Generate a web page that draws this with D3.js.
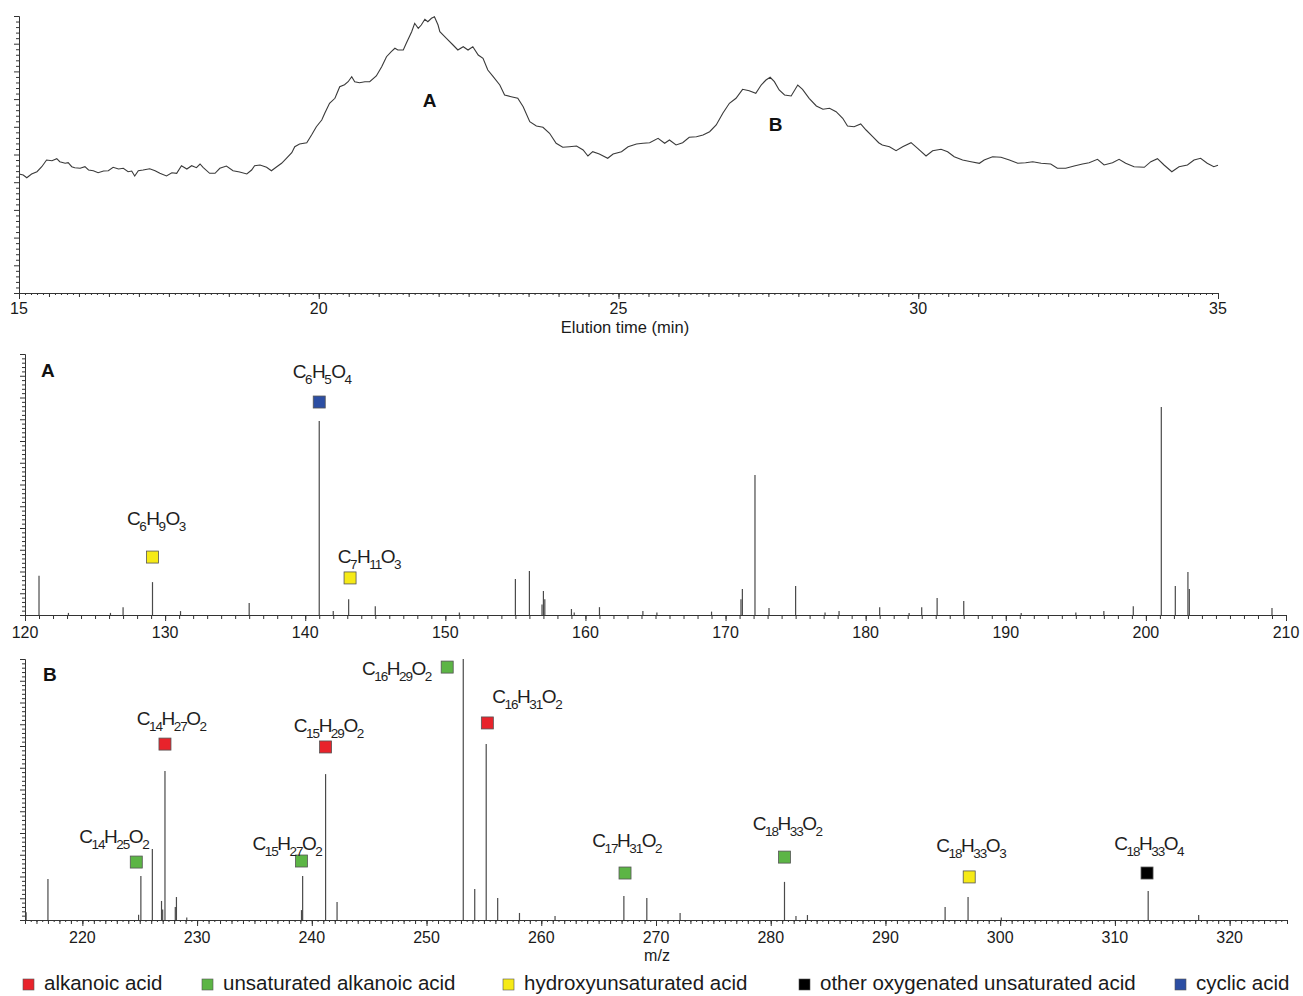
<!DOCTYPE html>
<html><head><meta charset="utf-8">
<script src="https://cdn.jsdelivr.net/npm/d3@7"></script>
<style>
body{margin:0;background:#fff}
svg{display:block}
text{font-family:"Liberation Sans",Arial,Helvetica,sans-serif}
</style>
</head><body>
<svg id="chart" width="1303" height="996"></svg>
<script>
// ---------- DATA ----------
// Chromatogram (elution time in min, intensity in arbitrary units)
const traceTime = [15.00,15.07,15.13,15.21,15.30,15.38,15.46,15.55,15.63,15.68,15.77,15.82,15.88,15.93,16.02,16.10,16.16,16.24,16.32,16.41,16.49,16.57,16.66,16.74,16.82,16.88,16.93,16.99,17.07,17.18,17.27,17.35,17.46,17.55,17.63,17.71,17.80,17.88,17.96,18.02,18.07,18.18,18.27,18.35,18.46,18.57,18.68,18.80,18.88,18.93,19.02,19.13,19.21,19.30,19.38,19.46,19.55,19.60,19.68,19.80,19.88,19.96,20.05,20.10,20.18,20.27,20.35,20.43,20.49,20.55,20.60,20.68,20.77,20.85,20.96,21.05,21.13,21.21,21.27,21.32,21.41,21.46,21.55,21.60,21.66,21.71,21.77,21.82,21.88,21.93,21.99,22.02,22.13,22.24,22.32,22.41,22.49,22.57,22.66,22.74,22.82,22.91,23.02,23.10,23.21,23.32,23.41,23.52,23.63,23.74,23.85,23.96,24.07,24.18,24.30,24.41,24.49,24.57,24.68,24.82,24.91,25.05,25.16,25.30,25.41,25.52,25.66,25.77,25.85,25.96,26.07,26.18,26.30,26.41,26.52,26.63,26.74,26.85,26.96,27.07,27.18,27.29,27.38,27.46,27.53,27.60,27.68,27.77,27.88,27.99,28.07,28.18,28.30,28.41,28.52,28.63,28.74,28.82,28.93,29.04,29.13,29.24,29.34,29.40,29.52,29.63,29.74,29.88,29.99,30.13,30.24,30.38,30.49,30.60,30.74,30.88,31.02,31.10,31.24,31.38,31.52,31.66,31.79,31.91,32.05,32.21,32.32,32.46,32.60,32.74,32.85,32.99,33.10,33.24,33.35,33.46,33.60,33.77,33.88,33.99,34.10,34.23,34.35,34.49,34.60,34.71,34.82,34.93,35.00];
const traceIntensity = [119,118,115.3,119,121.3,126.3,133,132.3,134.3,131.3,129.7,130.3,126.3,125.3,124.7,126.3,123,122.3,120.3,122,122.3,125.7,124,124.7,121.3,122,117,122.3,123,124.3,122.3,119.7,117,120.3,119.7,127.3,124,127.3,125.3,129,125.7,119.7,119.7,124.7,127,122.3,121,119,123,127.3,128,125.7,122.3,126.3,129.7,134.7,140.3,146.3,149,150.3,158,166.3,173,179.7,189.7,194.7,206.3,208.3,211.3,216.3,211.3,210.3,211.3,211.3,217,226.3,236.3,241.3,244.7,243,243,249.7,261.3,269.7,264.7,268,273.7,271.3,274.7,276.3,268,261.3,254.7,248,243,246.3,243,246.3,238,234.7,223,216.3,208,198,196.3,194.7,186.3,171.3,167,165.7,159.7,149.7,145.7,146.3,147,143,137,141.3,139,134.7,139,141.3,146.3,149,149.7,150.3,154.7,149.7,153,148,150.3,155.7,156.3,158,161.3,168,179.7,189.7,194.7,203.7,202.3,199.7,208,213,215.7,211.3,203,198,197,208,203.7,194.7,187,183.7,184.7,181.3,174.7,167,166.3,169,163,156.3,150.3,148,146.3,142.3,146.3,150.3,144.7,137,142.3,143.7,141.3,136.3,133,131.3,129.7,133,136.3,135.7,133,129.7,130.3,131.3,129.7,129,124.7,124.7,127,129,130.3,133.7,128,130.3,133.7,129.7,126.3,125.7,131.3,134.3,128,121.3,126.3,128,133,134.7,129.7,126.3,127.7];
const traceTickLabels = [15,20,25,30,35];
const tracePeakNames = ["A","B"];
const tracePeakTime = [21.85,27.62];
const tracePeakLevel = [186,162];

// Mass spectrum A (m/z, relative intensity %)
const mzA  = [121.0,123.1,126.1,127.0,129.1,131.1,136.0,141.0,142.0,143.1,145.0,151.0,155.0,156.0,156.9,157.0,157.1,159.0,159.2,161.0,164.1,165.1,169.0,171.1,171.2,172.1,173.1,175.0,177.1,178.1,181.0,183.1,184.0,185.1,187.0,191.1,195.0,197.0,199.1,201.1,202.1,203.0,203.1,209.0];
const intA = [15,0.8,0.8,3,12.6,1.5,4.6,74.3,1.5,6,3.4,1,13.8,16.9,4,9.2,6,2.3,1,3,1.5,1,1.3,6,10,53.6,2.7,11.1,1,1.5,3,0.8,3,6.5,5.4,0.8,1,1.5,3.4,79.7,11.1,16.5,10,2.7];
const mzTickLabelsA = [120,130,140,150,160,170,180,190,200,210];

// Mass spectrum B
const mzB  = [215.1,217.0,224.9,225.1,226.1,226.9,227.0,227.2,228.1,228.2,229.1,239.1,239.2,241.2,242.2,253.2,254.2,255.2,256.2,258.1,261.2,267.2,269.2,272.1,281.2,282.2,283.2,295.2,297.2,300.1,312.9,317.3];
const intB = [3,15.7,2,16.9,27.2,7.3,4,57.1,5,8.8,1,3.8,16.9,55.9,6.9,100,11.9,67.4,8.4,2.7,1.5,9.2,8.4,2.7,14.6,1.5,1.9,5,8.8,1,11.1,1.9];
const mzTickLabelsB = [220,230,240,250,260,270,280,290,300,310,320];

// Compound classes (legend)
const classNames  = ["alkanoic acid","unsaturated alkanoic acid","hydroxyunsaturated acid","other oxygenated unsaturated acid","cyclic acid"];
const classColors = ["#e8232b","#5cb545","#f6ea16","#000000","#2c4ea3"];

// Assignments: formula, class index, marker m/z, marker level, label m/z, label level
const annFormulaA = ["C6H5O4","C6H9O3","C7H11O3"];
const annClassA   = [4,2,2];
const annMzA      = [141.0,129.1,143.2];
const annLevelA   = [81.6,22.2,14.2];
const annLabelMzA = [141.23,129.4,144.6];
const annLabelLvA = [90.8,34.5,20.0];

const annFormulaB = ["C14H25O2","C14H27O2","C15H27O2","C15H29O2","C16H29O2","C16H31O2","C17H31O2","C18H33O2","C18H33O3","C18H33O4"];
const annClassB   = [1,0,1,0,1,0,1,1,2,3];
const annMzB      = [224.7,227.2,239.1,241.2,251.8,255.3,267.3,281.2,297.3,312.8];
const annLevelB   = [22.2,67.4,22.6,66.3,96.9,75.5,18.0,24.1,16.5,18.0];
const annLabelMzB = [222.8,227.8,237.9,241.5,250.5,258.8,267.5,281.5,297.5,313.0];
const annLabelLvB = [29.5,74.7,26.8,72.0,93.9,83.1,28.0,34.5,26.1,26.8];
const leftLabels  = ["C16H29O2"];

// ---------- DRAWING ----------
const svg = d3.select("#chart");
const AX = "#333";

function tickRow(g, x, y0, vals, size) {
  g.append("g").attr("transform", `translate(0,${y0})`)
    .call(d3.axisBottom(x).tickValues(vals).tickSize(size).tickFormat("").tickSizeOuter(0))
    .call(s => s.selectAll("line,path").attr("stroke", AX));
}

function drawXAxis(g, x, y0, labels, minorStep, midStep, labelDy, fs) {
  const [d0, d1] = x.domain();
  const rng = st => d3.range(Math.ceil(d0/st - 1e-9)*st, d1 + 1e-9, st);
  if (minorStep) tickRow(g, x, y0, rng(minorStep), 2);
  tickRow(g, x, y0, rng(midStep), 4);
  tickRow(g, x, y0, labels, 6);
  g.append("g").selectAll("text").data(labels).join("text")
    .attr("x", d => x(d)).attr("y", y0 + labelDy)
    .attr("text-anchor", "middle").style("font-size", fs + "px").attr("fill", "#1a1a1a")
    .text(d => d);
}

function drawYAxis(g, y, x0, n) {
  const [d0, d1] = y.domain();
  const step = (d1 - d0) / n;
  const vals = d3.range(0, n + 1).map(i => d0 + i * step);
  g.append("g").attr("transform", `translate(${x0},0)`)
    .call(d3.axisLeft(y).tickValues(vals.filter((v,i)=>i%5!==0)).tickSize(3).tickFormat("").tickSizeOuter(0))
    .call(s => s.selectAll("line,path").attr("stroke", AX));
  g.append("g").attr("transform", `translate(${x0},0)`)
    .call(d3.axisLeft(y).tickValues(vals.filter((v,i)=>i%5===0)).tickSize(5).tickFormat("").tickSizeOuter(0))
    .call(s => s.selectAll("line,path").attr("stroke", AX));
}

function formula(g, text, x, y, anchor) {
  const parts = text.match(/[A-Z][a-z]?|\d+/g);
  const t = g.append("text").attr("x", x).attr("y", y).attr("text-anchor", anchor)
    .style("font-size", "19px").attr("fill", "#1e1e1e");
  let inSub = false;
  parts.forEach(p => {
    const isNum = /^\d+$/.test(p);
    const ts = t.append("tspan").text(p);
    if (isNum) {
      ts.attr("dy", 6).attr("dx", -1.5).style("font-size", "13.5px");
      if (p.length > 1) ts.attr("letter-spacing", -1);
      inSub = true;
    } else if (inSub) {
      ts.attr("dy", -6).attr("dx", -0.5);
      inSub = false;
    }
  });
}

// ----- Top: chromatogram -----
const gT = svg.append("g");
const xT = d3.scaleLinear().domain([15, 35]).range([19, 1218]);
const yT = d3.scaleLinear().domain([0, 277]).range([293, 16]);
drawYAxis(gT, yT, 19, 50);
drawXAxis(gT, xT, 293, traceTickLabels, 0.1, 0.5, 21, 16);
gT.append("text").attr("x", 625).attr("y", 333).attr("text-anchor", "middle")
  .style("font-size", "16.5px").attr("fill", "#1a1a1a").text("Elution time (min)");
const line = d3.line().x(d => xT(d[0])).y(d => yT(d[1]));
gT.append("path").datum(d3.zip(traceTime, traceIntensity))
  .attr("d", line).attr("fill", "none").attr("stroke", "#3a3a3a").attr("stroke-width", 1.1);
gT.selectAll("text.pk").data(tracePeakNames).join("text").attr("class", "pk")
  .attr("x", (d,i) => xT(tracePeakTime[i])).attr("y", (d,i) => yT(tracePeakLevel[i]))
  .attr("text-anchor", "middle").style("font-size", "19px").style("font-weight", "bold")
  .attr("fill", "#111").text(d => d);

// ----- Spectrum panel helper -----
function spectrum(cfg) {
  const g = svg.append("g");
  const x = d3.scaleLinear().domain(cfg.xDomain).range(cfg.xRange);
  const y = d3.scaleLinear().domain([0, 100]).range([cfg.y0, cfg.yTop]);
  drawYAxis(g, y, cfg.xRange[0], 60);
  drawXAxis(g, x, cfg.y0, cfg.ticks, cfg.minorStep, 1, 23, 16);
  g.append("g").selectAll("line").data(d3.zip(cfg.mz, cfg.int)).join("line")
    .attr("x1", d => x(d[0])).attr("x2", d => x(d[0]))
    .attr("y1", y(0)).attr("y2", d => y(d[1]))
    .attr("stroke", "#4a4a4a").attr("stroke-width", 1.2);
  g.append("text").attr("x", cfg.letterX).attr("y", cfg.letterY)
    .style("font-size", "19px").style("font-weight", "bold").attr("fill", "#111").text(cfg.letter);
  cfg.ann.formula.forEach((f, i) => {
    const cx = x(cfg.ann.mz[i]), cy = y(cfg.ann.level[i]);
    g.append("rect").attr("x", cx - 6).attr("y", cy - 6).attr("width", 12).attr("height", 12)
      .attr("fill", classColors[cfg.ann.cls[i]]).attr("stroke", "#555").attr("stroke-width", 0.8);
    const left = leftLabels.includes(f);
    formula(g, f, x(cfg.ann.lmz[i]), y(cfg.ann.llv[i]), left ? "end" : "middle");
  });
  return g;
}

spectrum({
  xDomain: [120, 210], xRange: [25, 1286], y0: 615, yTop: 354,
  ticks: mzTickLabelsA, minorStep: 0, mz: mzA, int: intA,
  letter: "A", letterX: 41, letterY: 377,
  ann: {formula: annFormulaA, cls: annClassA, mz: annMzA, level: annLevelA, lmz: annLabelMzA, llv: annLabelLvA}
});
spectrum({
  xDomain: [215, 325], xRange: [25, 1287], y0: 920, yTop: 659,
  ticks: mzTickLabelsB, minorStep: 0.5, mz: mzB, int: intB,
  letter: "B", letterX: 43, letterY: 681,
  ann: {formula: annFormulaB, cls: annClassB, mz: annMzB, level: annLevelB, lmz: annLabelMzB, llv: annLabelLvB}
});
svg.append("text").attr("x", 657).attr("y", 961).attr("text-anchor", "middle")
  .style("font-size", "16px").attr("fill", "#1a1a1a").text("m/z");

// ----- Legend -----
const legX = [23, 202, 503, 799, 1175];
const leg = svg.append("g").selectAll("g").data(classNames).join("g")
  .attr("transform", (d,i) => `translate(${legX[i]},0)`);
leg.append("rect").attr("x", 0).attr("y", 979).attr("width", 11).attr("height", 11)
  .attr("fill", (d,i) => classColors[i]).attr("stroke", "#555").attr("stroke-width", 0.6);
leg.append("text").attr("x", 21).attr("y", 990).style("font-size", "20.5px")
  .attr("fill", "#1a1a1a").text(d => d);
</script>
</body></html>
